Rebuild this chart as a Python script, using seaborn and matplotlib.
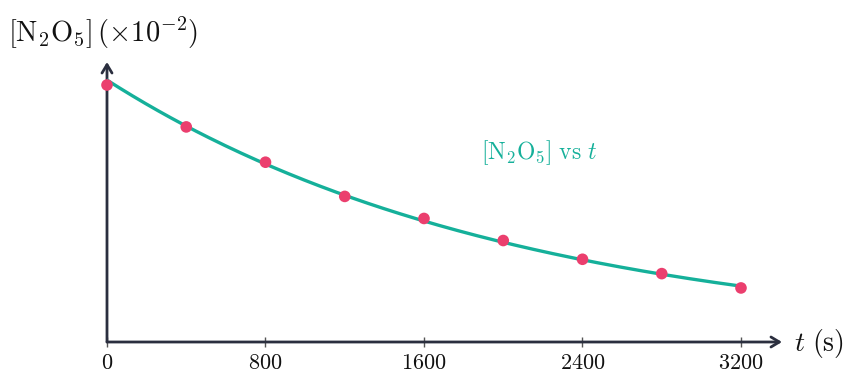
import numpy as np
import pandas as pd
import matplotlib
matplotlib.use("Agg")
import matplotlib.pyplot as plt
import seaborn as sns

# data (units of 1e-2 M)
t_vals = [0, 400, 800, 1200, 1600, 2000, 2400, 2800, 3200]
conc = [2.33, 1.95, 1.63, 1.32, 1.12, 0.92, 0.75, 0.62, 0.49]
x_ticks = [0, 800, 1600, 2400, 3200]
x_tick_labels = ["0", "800", "1600", "2400", "3200"]

sns.set_theme(style="white")
plt.rcParams["mathtext.fontset"] = "cm"
plt.rcParams["font.family"] = ["DejaVu Serif"]

df = pd.DataFrame({"t": t_vals, "c": conc})

# exponential fit of data
k, lnA = np.polyfit(df["t"], np.log(df["c"]), 1)
tt = np.linspace(0, 3200, 200)
fit = pd.DataFrame({"t": tt, "c": np.exp(lnA) * np.exp(k * tt)})

axc = "#2b2f3f"
teal = "#15b09a"
pink = "#eb3f6e"

fig = plt.figure(figsize=(8.46, 3.74), dpi=100)
ax = fig.add_axes([107/846, 32/374, (782-107)/846, (342-62)/374])
ax.patch.set_alpha(0)

sns.lineplot(data=fit, x="t", y="c", ax=ax, color=teal, lw=2.4, zorder=2)
sns.scatterplot(data=df, x="t", y="c", ax=ax, color=pink, s=70, edgecolor="none",
                zorder=3, clip_on=False)

ax.set_xlim(0, 3407)
ax.set_ylim(0, 2.33 * (342 - 62) / 257)
for s in ax.spines.values():
    s.set_visible(False)
ax.set_xlabel("")
ax.set_ylabel("")
ax.set_yticks([])
ax.set_xticks(x_ticks)
ax.set_xticklabels(["$" + l + "$" for l in x_tick_labels], fontsize=16)
ax.tick_params(axis="x", direction="inout", length=7, width=1, color="#555555",
               labelcolor="#111111", pad=4, bottom=True)

# axis arrows
ax.annotate("", xy=(1.0, 0), xycoords="axes fraction", xytext=(0, 0),
            arrowprops=dict(arrowstyle="->,head_length=0.5,head_width=0.3", color=axc, lw=2,
                            shrinkA=0, shrinkB=0), zorder=1)
ax.annotate("", xy=(0, 1.0), xycoords="axes fraction", xytext=(0, 0),
            arrowprops=dict(arrowstyle="->,head_length=0.5,head_width=0.3", color=axc, lw=2,
                            shrinkA=0, shrinkB=0), zorder=1)

fig.text(794/846, 1 - 343/374, r"$t\ (\mathrm{s})$", fontsize=20, va="center", ha="left",
         color="#111111")
fig.text(8/846, 1 - 33/374, r"$[\mathrm{N_2O_5}]\,(\times10^{-2})$", fontsize=20.5,
         va="center", ha="left", color="#111111")
fig.text(481/846, 1 - 153/374, r"$[\mathrm{N_2O_5}]\ \mathrm{vs}\ t$", fontsize=17,
         va="center", ha="left", color=teal)

fig.savefig("out.png", dpi=100)
